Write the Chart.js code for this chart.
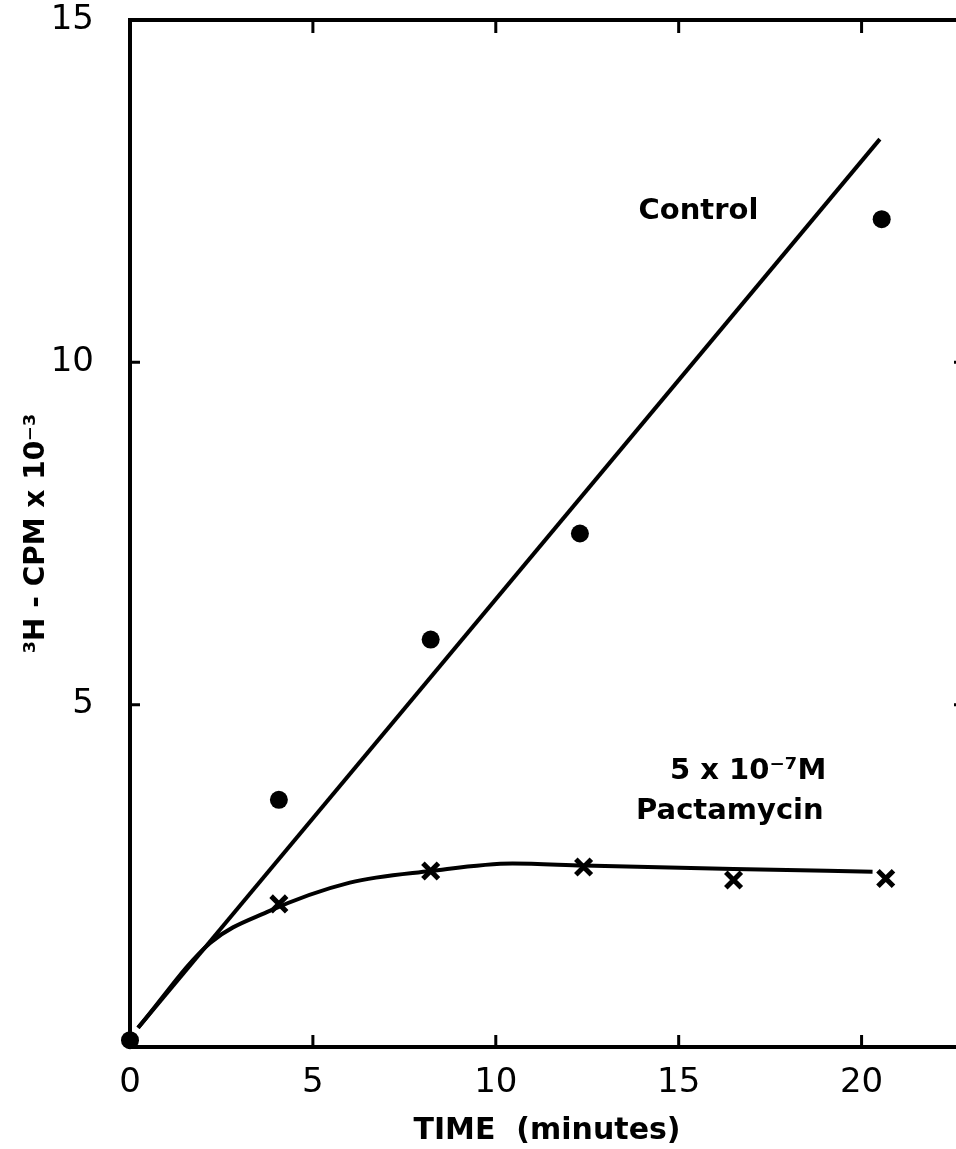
<!DOCTYPE html>
<html lang="en">
<head>
<meta charset="UTF-8" />
<title>Pactamycin - 3H incorporation</title>
<script src="https://cdn.jsdelivr.net/npm/chart.js@4.4.1/dist/chart.umd.min.js"></script>
<style>
  html, body { margin: 0; padding: 0; background: #fff; overflow: hidden; }
  .wrap { width: 956px; height: 1149px; overflow: hidden; }
  canvas { display: block; }
</style>
</head>
<body>
<div class="wrap"><canvas id="uptake" width="980" height="1149"></canvas></div>
<script>
// measured points (time in minutes, counts x 10^-3)
const controlTime = [0, 4.07, 8.22, 12.3, 20.55];
const controlCpm = [0.1, 3.61, 5.95, 7.5, 12.09];

// straight line fitted by hand through the control points
const controlFitTime = [0.22, 20.5];
const controlFitCpm = [0.28, 13.26];

const pactTime = [4.07, 8.22, 12.4, 16.5, 20.66];
const pactCpm = [2.09, 2.57, 2.63, 2.44, 2.46];

// smooth curve drawn through the pactamycin points
const pactCurveTime = [0.22, 2.19, 3.74, 6.01, 8.22, 10.46, 12.4, 16.5, 20.3];
const pactCurveCpm = [0.28, 1.52, 1.97, 2.4, 2.57, 2.68, 2.65, 2.6, 2.56];

const xTicks = [0, 5, 10, 15, 20];
const yTicks = [5, 10, 15];

const noteText = ["Control", "5 x 10\u207B\u2077M", "Pactamycin"];
const noteX = [13.9, 16.9, 16.4];
const noteY = [12.2, 4.02, 3.44];

const pairs = (xs, ys) => xs.map((x, i) => ({ x: x, y: ys[i] }));

const INK = "#000";
const FONT = "'DejaVu Sans', sans-serif";

// closes the box and puts the inward tick marks on all four sides
const frameTicks = {
  id: "frameTicks",
  afterDraw(chart) {
    const { ctx, chartArea: a, scales } = chart;
    ctx.save();
    ctx.strokeStyle = INK;
    ctx.lineCap = "butt";
    ctx.lineWidth = 4;
    ctx.beginPath();
    ctx.moveTo(a.left - 2, a.top);
    ctx.lineTo(a.right, a.top);
    ctx.lineTo(a.right, a.bottom);
    ctx.stroke();

    ctx.lineWidth = 3;
    ctx.beginPath();
    xTicks.filter((v) => v > 0).forEach((v) => {
      const px = scales.x.getPixelForValue(v);
      ctx.moveTo(px, a.bottom);
      ctx.lineTo(px, a.bottom - 12);
      ctx.moveTo(px, a.top);
      ctx.lineTo(px, a.top + 13);
    });
    yTicks.filter((v) => v < 15).forEach((v) => {
      const py = scales.y.getPixelForValue(v);
      ctx.moveTo(a.left, py);
      ctx.lineTo(a.left + 10, py);
      ctx.moveTo(a.right, py);
      ctx.lineTo(a.right - 10, py);
    });
    ctx.stroke();

    // curve labels
    ctx.fillStyle = INK;
    ctx.font = "bold 29px " + FONT;
    ctx.textBaseline = "middle";
    noteText.forEach((t, i) => {
      ctx.textAlign = i === 0 ? "left" : "center";
      ctx.fillText(t, scales.x.getPixelForValue(noteX[i]), scales.y.getPixelForValue(noteY[i]));
    });
    ctx.restore();
  },
};

new Chart(document.getElementById("uptake"), {
  type: "scatter",
  data: {
    datasets: [
      {
        label: "Control fit",
        data: pairs(controlFitTime, controlFitCpm),
        showLine: true,
        borderColor: INK,
        borderWidth: 4,
        pointRadius: 0,
      },
      {
        label: "Pactamycin curve",
        data: pairs(pactCurveTime, pactCurveCpm),
        showLine: true,
        cubicInterpolationMode: "monotone",
        borderColor: INK,
        borderWidth: 4,
        pointRadius: 0,
      },
      {
        label: "Control",
        data: pairs(controlTime, controlCpm),
        pointStyle: "circle",
        pointRadius: 9,
        backgroundColor: INK,
        borderColor: INK,
        borderWidth: 0,
        clip: false,
      },
      {
        label: "5 x 10-7 M Pactamycin",
        data: pairs(pactTime, pactCpm),
        pointStyle: "crossRot",
        pointRadius: 11,
        borderColor: INK,
        borderWidth: 5,
      },
    ],
  },
  options: {
    responsive: false,
    devicePixelRatio: 1,
    animation: false,
    layout: { padding: { top: 20, right: 0, left: 0, bottom: 0 } },
    plugins: { legend: { display: false }, tooltip: { enabled: false } },
    scales: {
      x: {
        type: "linear",
        min: 0,
        max: 22.8,
        grid: { display: false },
        border: { display: true, color: INK, width: 4 },
        ticks: {
          stepSize: 5,
          includeBounds: false,
          color: INK,
          font: { family: FONT, size: 34 },
          padding: 8,
          callback: (v) => (xTicks.includes(v) ? v : ""),
        },
        title: {
          display: true,
          text: "TIME  (minutes)",
          color: INK,
          font: { family: FONT, size: 30, weight: "bold" },
          padding: 0,
        },
        afterFit(s) {
          s.height = 102;
          s.paddingLeft = 0;
          s.paddingRight = 0;
        },
      },
      y: {
        type: "linear",
        min: 0,
        max: 15,
        grid: { display: false },
        border: { display: true, color: INK, width: 4 },
        ticks: {
          stepSize: 5,
          color: INK,
          font: { family: FONT, size: 34 },
          padding: 28,
          callback: (v) => (yTicks.includes(v) ? v : ""),
        },
        title: {
          display: true,
          text: "\u00B3H - CPM x 10\u207B\u00B3",
          color: INK,
          font: { family: FONT, size: 28, weight: "bold" },
          padding: { top: 20, bottom: 0 },
        },
        afterFit(s) {
          s.width = 130;
          s.paddingTop = 0;
          s.paddingBottom = 0;
        },
      },
    },
  },
  plugins: [frameTicks],
});
</script>
</body>
</html>
